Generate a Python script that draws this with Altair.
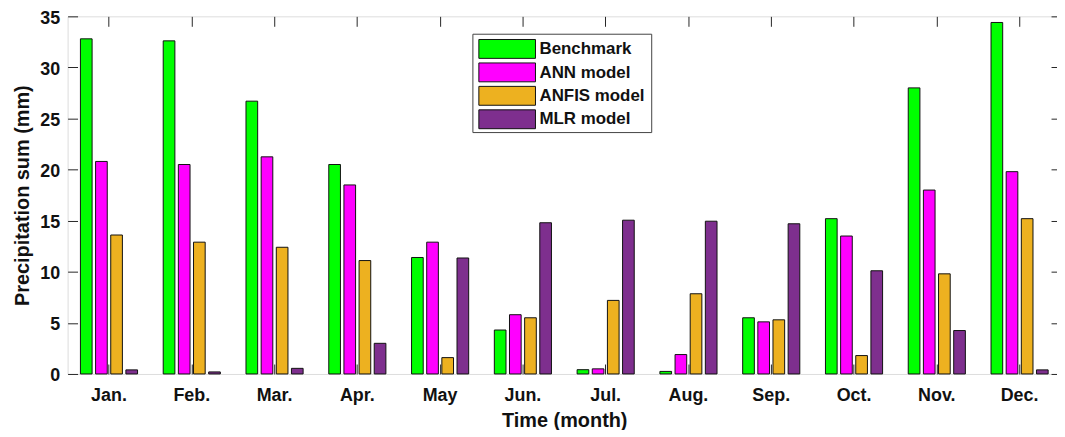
import altair as alt
import pandas as pd

months = ["Jan.", "Feb.", "Mar.", "Apr.", "May", "Jun.", "Jul.", "Aug.", "Sep.", "Oct.", "Nov.", "Dec."]
series = ["Benchmark", "ANN model", "ANFIS model", "MLR model"]
benchmark = [32.8, 32.6, 26.7, 20.5, 11.4, 4.3, 0.42, 0.25, 5.5, 15.2, 28.0, 34.4]
ann = [20.8, 20.5, 21.25, 18.5, 12.9, 5.8, 0.5, 1.9, 5.1, 13.5, 18.0, 19.8]
anfis = [13.6, 12.9, 12.4, 11.1, 1.6, 5.5, 7.2, 7.85, 5.3, 1.8, 9.8, 15.2]
mlr = [0.4, 0.2, 0.55, 3.0, 11.35, 14.8, 15.05, 14.95, 14.7, 10.1, 4.25, 0.4]
colors = ["#00FF00", "#FF00FF", "#EDB120", "#7E2F8E"]
y_ticks = [0, 5, 10, 15, 20, 25, 30, 35]

FONT = "Liberation Sans, Arial, sans-serif"
INK = "#111111"
FRAME = "#262626"

rows = []
for s, vals in zip(series, [benchmark, ann, anfis, mlr]):
    for m, v in zip(months, vals):
        rows.append({"month": m, "series": s, "value": v})
df = pd.DataFrame(rows)

leg_df = pd.DataFrame({"series": series, "idx": list(range(len(series)))})

x_scale = alt.Scale(domain=months, paddingInner=0.31, paddingOuter=0.155)
xo_scale = alt.Scale(domain=series, paddingInner=0.23, paddingOuter=0)
y_scale = alt.Scale(domain=[0, 35], nice=False, zero=True)
color_scale = alt.Scale(domain=series, range=colors)


def bars(xaxis, yaxis, opacity):
    return alt.Chart(df).mark_bar(stroke=INK, strokeWidth=1, opacity=opacity).encode(
        x=alt.X("month:N", sort=months, scale=x_scale, axis=xaxis),
        xOffset=alt.XOffset("series:N", sort=series, scale=xo_scale),
        y=alt.Y("value:Q", scale=y_scale, axis=yaxis),
        color=alt.Color("series:N", scale=color_scale, legend=None),
    )


x_main = alt.Axis(
    orient="bottom", title="Time (month)", ticks=False, domain=False, grid=False,
    labelAngle=0, labelFont=FONT, labelFontSize=18, labelFontWeight="bold",
    labelColor=INK, labelPadding=13, titleFont=FONT, titleFontSize=20,
    titleFontWeight="bold", titleColor=INK, titlePadding=6,
)
y_main = alt.Axis(
    orient="left", title="Precipitation sum (mm)", ticks=False, domain=False, grid=False,
    values=y_ticks, labelFont=FONT, labelFontSize=18, labelFontWeight="bold",
    labelColor=INK, labelPadding=8, labelOffset=2, titleFont=FONT, titleFontSize=20,
    titleFontWeight="bold", titleColor=INK, titlePadding=7,
)


def tick_axis(orient, values=None):
    kw = dict(orient=orient, offset=-10, tickSize=10, tickColor=FRAME, tickWidth=1,
              labels=False, domain=False, grid=False, title=None)
    if values is not None:
        kw["values"] = values
    return alt.Axis(**kw)


main = bars(x_main, y_main, 1)
inner1 = bars(tick_axis("bottom"), tick_axis("left", y_ticks), 0)
inner2 = bars(tick_axis("top"), tick_axis("right", y_ticks), 0)

legend_box = alt.Chart(alt.Data(values=[{"k": 1}])).mark_rect(
    fill="white", stroke="#444444", strokeWidth=1
).encode(x=alt.value(408), x2=alt.value(588), y=alt.value(18), y2=alt.value(117))

leg_base = alt.Chart(leg_df).transform_calculate(
    yt="23.3 + 23.6 * datum.idx",
    yb="42.3 + 23.6 * datum.idx",
    yc="33.0 + 23.6 * datum.idx",
)
swatches = leg_base.mark_rect(stroke=INK, strokeWidth=1).encode(
    x=alt.value(414), x2=alt.value(471),
    y=alt.Y("yt:Q", scale=None, axis=None), y2="yb:Q",
    color=alt.Color("series:N", scale=color_scale, legend=None),
)
labels = leg_base.mark_text(
    align="left", baseline="middle", font=FONT, fontSize=17, fontWeight="bold", color=INK
).encode(
    x=alt.value(475),
    y=alt.Y("yc:Q", scale=None, axis=None),
    text="series:N",
)

chart = alt.layer(inner1, inner2, main, legend_box, swatches, labels).resolve_axis(
    x="independent", y="independent"
).properties(
    width=1000, height=360,
    autosize=alt.AutoSizeParams(type="none"),
    padding={"left": 60, "top": 7, "right": -4, "bottom": 55},
).configure_view(stroke=FRAME, strokeWidth=1).configure(background="white")

chart.save("out.html", embed_options={"renderer": "svg", "actions": False})
